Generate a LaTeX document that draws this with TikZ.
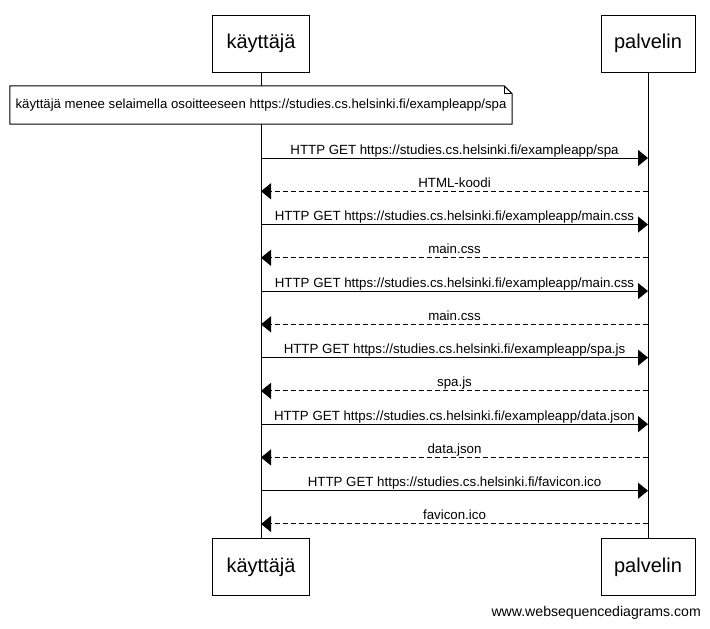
\documentclass[tikz,border=0pt]{standalone}
\usepackage{fontspec}
\setmainfont{Liberation Sans}
\usetikzlibrary{arrows.meta, calc}

\tikzset{
  actor/.style={draw, line width=1pt, minimum width=97pt, minimum height=57pt,
    inner sep=0pt, font=\fontsize{20}{24}\selectfont},
  msg/.style={line width=1pt, -{Triangle[length=10pt,width=16pt]}},
  reply/.style={msg, dash pattern=on 5pt off 3pt},
  lbl/.style={anchor=base, inner sep=0pt, yshift=4pt, font=\fontsize{13.3}{15}\selectfont}
}

\begin{document}
\begin{tikzpicture}[x=1pt, y=-1pt]
    \useasboundingbox (0,0) rectangle (710,629);

    % actors, top and bottom
    \node[actor] (user top) at (261,43.5) {käyttäjä};
    \node[actor, minimum width=94pt] (server top) at (648,43.5) {palvelin};
    \node[actor] (user bot) at (261,567) {käyttäjä};
    \node[actor, minimum width=94pt] (server bot) at (648,567) {palvelin};

    % lifelines
    \draw[line width=1pt] (user top) -- (user bot);
    \draw[line width=1pt] (server top) -- (server bot);

    % note with folded corner
    \node[minimum width=502pt, minimum height=38pt, inner sep=0pt, fill=white,
      font=\fontsize{13.2}{15}\selectfont] (note) at (261,105)
      {käyttäjä menee selaimella osoitteeseen https://studies.cs.helsinki.fi/exampleapp/spa};
    \draw[line width=1pt] (note.north west) -- ($(note.north east)+(-8,0)$)
      -- ($(note.north east)+(0,8)$) -- (note.south east) -- (note.south west) -- cycle;
    \draw[line width=1pt] ($(note.north east)+(-8,0)$) -- ($(note.north east)+(-8,8)$)
      -- ($(note.north east)+(0,8)$);

    % messages
    \foreach \i/\kind/\txt in {
        1/msg/{HTTP GET https://studies.cs.helsinki.fi/exampleapp/spa},
        2/reply/{HTML-koodi},
        3/msg/{HTTP GET https://studies.cs.helsinki.fi/exampleapp/main.css},
        4/reply/{main.css},
        5/msg/{HTTP GET https://studies.cs.helsinki.fi/exampleapp/main.css},
        6/reply/{main.css},
        7/msg/{HTTP GET https://studies.cs.helsinki.fi/exampleapp/spa.js},
        8/reply/{spa.js},
        9/msg/{HTTP GET https://studies.cs.helsinki.fi/exampleapp/data.json},
        10/reply/{data.json},
        11/msg/{HTTP GET https://studies.cs.helsinki.fi/favicon.ico},
        12/reply/{favicon.ico}} {
        \coordinate (u\i) at (261,{158+(\i-1)*33.27});
        \coordinate (s\i) at (648,{158+(\i-1)*33.27});
        \ifodd\i
            \draw[\kind] (u\i) -- node[lbl] {\txt} (s\i);
        \else
            \draw[\kind] (s\i) -- node[lbl] {\txt} (u\i);
        \fi
    }

    \node[anchor=south east, inner sep=0pt, font=\fontsize{14.1}{16}\selectfont] (credit)
      at (701,620) {www.websequencediagrams.com};
\end{tikzpicture}
\end{document}
